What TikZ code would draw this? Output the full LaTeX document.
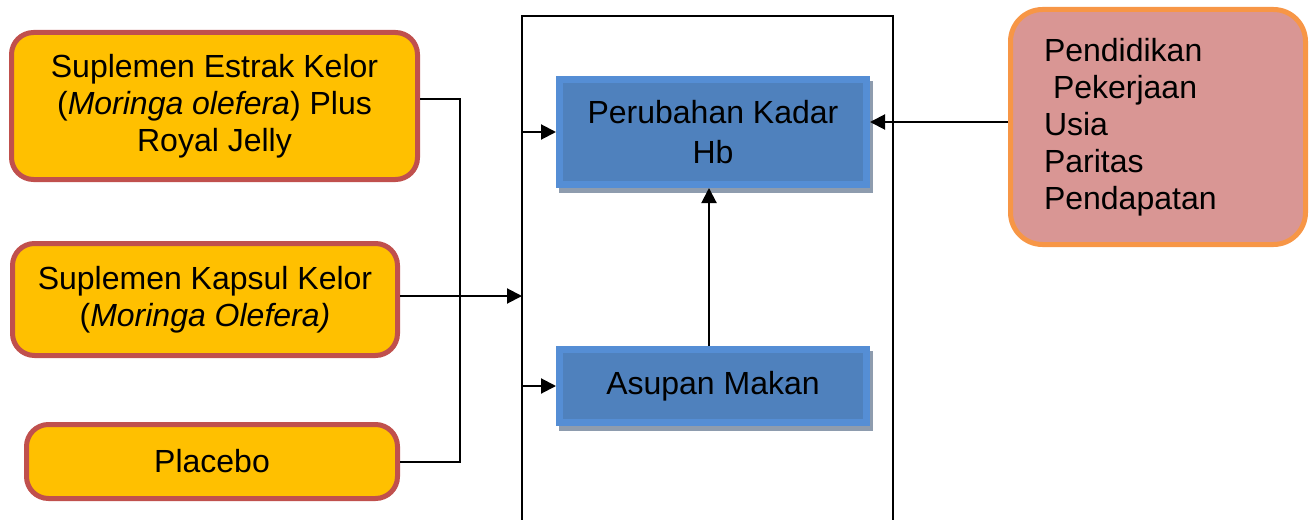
\documentclass[tikz,border=0pt]{standalone}
\usepackage{fontspec}
\setmainfont{Liberation Sans}
\usetikzlibrary{arrows.meta,shadows,calc}

\definecolor{kelorfill}{HTML}{FFC000}
\definecolor{kelorline}{HTML}{C0504D}
\definecolor{hbfill}{HTML}{4F81BD}
\definecolor{hbline}{HTML}{558ED5}
\definecolor{hbshadow}{HTML}{8E9CAE}
\definecolor{faktorfill}{HTML}{D99694}
\definecolor{faktorline}{HTML}{F79646}

\newcommand\diagfont{\fontsize{32}{37}\selectfont}

\begin{document}
\begin{tikzpicture}[x=1pt,y=-1pt,
        supp/.style={
            draw=kelorline, line width=5pt, fill=kelorfill, rounded corners=22pt,
            align=center, inner sep=0pt, font=\diagfont
        },
        outcome/.style={
            draw=hbline, line width=7pt, fill=hbfill, align=center, inner sep=0pt,
            minimum width=307pt, font=\diagfont,
            drop shadow={shadow xshift=3pt, shadow yshift=-5pt, opacity=1,
                fill=hbshadow, draw=hbshadow, line width=7pt}
        },
        link/.style={line width=2pt},
        flow/.style={-{Triangle[length=15pt,width=15pt]}, line width=2pt}
    ]
        \useasboundingbox (0,0) rectangle (1316,519);

        % open frame round the outcome boxes
        \coordinate (frame) at (522,16);
        \draw[link] (522,530) |- (893,16) -- (893,530);

        \node[supp, minimum width=406pt, minimum height=147pt] (estrak) at (214.5,106)
            {Suplemen Estrak Kelor\\(\textit{Moringa olefera}) Plus\\Royal Jelly};
        \node[supp, minimum width=385pt, minimum height=112pt] (kapsul) at (205,299.5)
            {Suplemen Kapsul Kelor\\(\textit{Moringa Olefera)}};
        \node[supp, minimum width=371pt, minimum height=74pt] (placebo) at (212,461.5)
            {Placebo};

        \node[outcome, minimum height=105pt, font=\fontsize{32}{40}\selectfont] (hb) at (713,132)
            {Perubahan Kadar\\Hb};
        \node[outcome, minimum height=73pt] (asupan) at (713,386) {Asupan Makan};

        \node[draw=faktorline, line width=5pt, fill=faktorfill, rounded corners=32pt,
              minimum width=295pt, minimum height=235pt, text width=228pt,
              inner xsep=33.5pt, inner ysep=0pt, align=left, font=\diagfont]
              (faktor) at (1158,127)
              {Pendidikan\\\hspace*{9pt}Pekerjaan\\Usia\\Paritas\\Pendapatan};

        % bus joining the three groups
        \coordinate (bus) at (460,0);
        \draw[link] ([yshift=7pt]estrak.east) -| (bus |- placebo.east) -- (placebo.east);
        \draw[flow] ([yshift=3.5pt]kapsul.east) coordinate (k) -- (k -| frame);

        \draw[flow] (frame |- hb.west) -- (hb.west);
        \draw[flow] (frame |- asupan.west) -- (asupan.west);
        \draw[flow] ([xshift=-4pt]asupan.north) -- ([xshift=-4pt]hb.south);
        \draw[flow] ([yshift=5pt]faktor.west) coordinate (f) -- (f -| hb.east);
    \end{tikzpicture}
\end{document}
